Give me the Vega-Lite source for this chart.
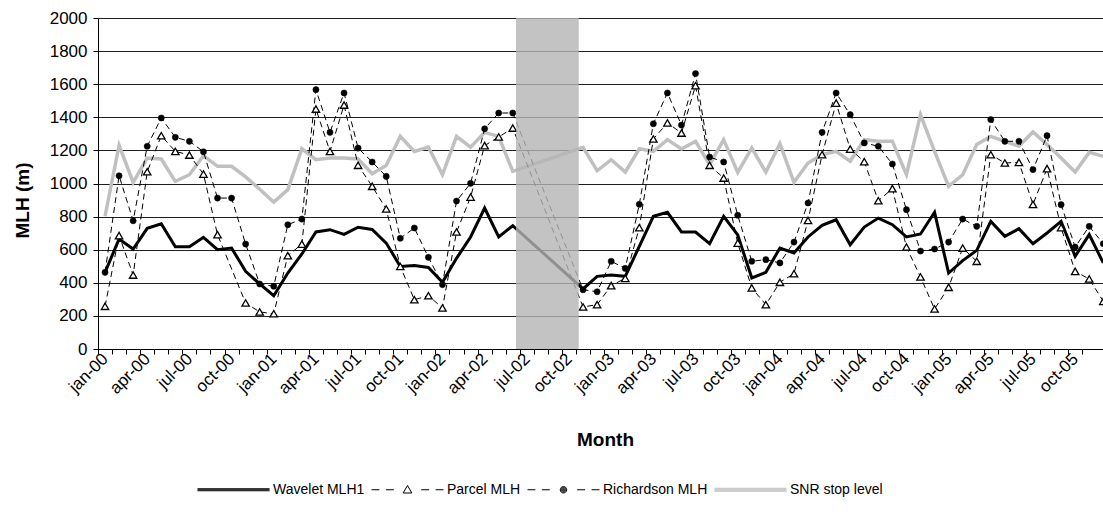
{
  "$schema": "https://vega.github.io/schema/vega-lite/v6.json",
  "width": 1005,
  "height": 331,
  "autosize": {"type": "none"},
  "padding": {"left": 98, "top": 18, "right": 0, "bottom": 165},
  "background": "white",
  "config": {
    "view": {"stroke": null},
    "font": "Liberation Sans",
    "axis": {"labelFont": "Liberation Sans", "titleFont": "Liberation Sans"},
    "legend": {"labelFont": "Liberation Sans"},
    "axisX": {
      "tickOffset": -7.03,
      "labelOffset": 7.03,
      "labelExpr": "datum.value % 3 == 0 ? ['jan','apr','jul','oct'][(datum.value % 12) / 3] + '-0' + floor(datum.value / 12) : ''",
      "labelAngle": -45,
      "labelAlign": "right",
      "labelBaseline": "middle",
      "labelPadding": 2,
      "labelOverlap": false,
      "labelFlush": false,
      "labelBound": false,
      "labelFontSize": 17,
      "labelColor": "black",
      "tickSize": 5,
      "tickColor": "black",
      "domainColor": "black",
      "grid": false,
      "titleFontSize": 19,
      "titleFontWeight": "bold",
      "titleColor": "black",
      "titleX": 507,
      "titleY": 90,
      "titleBaseline": "middle"
    },
    "axisY": {
      "format": "d",
      "grid": true,
      "gridColor": "#1e1e1e",
      "gridWidth": 1,
      "domainColor": "black",
      "tickColor": "black",
      "tickSize": 5,
      "labelPadding": 6,
      "labelOverlap": false,
      "labelFontSize": 17,
      "labelColor": "black",
      "titleFontSize": 19,
      "titleFontWeight": "bold",
      "titleColor": "black",
      "titleAngle": -90,
      "titleAlign": "center",
      "titleBaseline": "middle",
      "titleX": -76,
      "titleY": 182
    }
  },
  "datasets": {
    "mlh": [
      {"m": 0, "month": "jan-00", "wavelet": 463, "parcel": 258, "richardson": 463, "snr": 802},
      {"m": 1, "month": "feb-00", "wavelet": 665, "parcel": 685, "richardson": 1047, "snr": 1231},
      {"m": 2, "month": "mar-00", "wavelet": 604, "parcel": 447, "richardson": 775, "snr": 1007},
      {"m": 3, "month": "apr-00", "wavelet": 729, "parcel": 1071, "richardson": 1225, "snr": 1154},
      {"m": 4, "month": "may-00", "wavelet": 757, "parcel": 1289, "richardson": 1396, "snr": 1148},
      {"m": 5, "month": "jun-00", "wavelet": 618, "parcel": 1194, "richardson": 1279, "snr": 1013},
      {"m": 6, "month": "jul-00", "wavelet": 618, "parcel": 1172, "richardson": 1255, "snr": 1053},
      {"m": 7, "month": "aug-00", "wavelet": 675, "parcel": 1057, "richardson": 1192, "snr": 1168},
      {"m": 8, "month": "sep-00", "wavelet": 600, "parcel": 691, "richardson": 912, "snr": 1104},
      {"m": 9, "month": "oct-00", "wavelet": 610, "richardson": 912, "snr": 1104},
      {"m": 10, "month": "nov-00", "wavelet": 469, "parcel": 278, "richardson": 634, "snr": 1040},
      {"m": 11, "month": "dec-00", "wavelet": 393, "parcel": 224, "richardson": 393, "snr": 965},
      {"m": 12, "month": "jan-01", "wavelet": 322, "parcel": 213, "richardson": 379, "snr": 888},
      {"m": 13, "month": "feb-01", "wavelet": 459, "parcel": 564, "richardson": 751, "snr": 963},
      {"m": 14, "month": "mar-01", "wavelet": 574, "parcel": 634, "richardson": 785, "snr": 1210},
      {"m": 15, "month": "apr-01", "wavelet": 707, "parcel": 1450, "richardson": 1567, "snr": 1144},
      {"m": 16, "month": "may-01", "wavelet": 721, "parcel": 1194, "richardson": 1309, "snr": 1154},
      {"m": 17, "month": "jun-01", "wavelet": 693, "parcel": 1474, "richardson": 1547, "snr": 1154},
      {"m": 18, "month": "jul-01", "wavelet": 736, "parcel": 1110, "richardson": 1214, "snr": 1148},
      {"m": 19, "month": "aug-01", "wavelet": 722, "parcel": 983, "richardson": 1130, "snr": 1059},
      {"m": 20, "month": "sep-01", "wavelet": 640, "parcel": 846, "richardson": 1043, "snr": 1108},
      {"m": 21, "month": "oct-01", "wavelet": 499, "parcel": 499, "richardson": 669, "snr": 1285},
      {"m": 22, "month": "nov-01", "wavelet": 505, "parcel": 298, "richardson": 731, "snr": 1194},
      {"m": 23, "month": "dec-01", "wavelet": 493, "parcel": 322, "richardson": 554, "snr": 1220},
      {"m": 24, "month": "jan-02", "wavelet": 403, "parcel": 248, "richardson": 389, "snr": 1053},
      {"m": 25, "month": "feb-02", "wavelet": 548, "parcel": 707, "richardson": 894, "snr": 1285},
      {"m": 26, "month": "mar-02", "wavelet": 677, "parcel": 918, "richardson": 1001, "snr": 1220},
      {"m": 27, "month": "apr-02", "wavelet": 852, "parcel": 1229, "richardson": 1331, "snr": 1309},
      {"m": 28, "month": "may-02", "wavelet": 677, "parcel": 1281, "richardson": 1426, "snr": 1285},
      {"m": 29, "month": "jun-02", "wavelet": 745, "parcel": 1335, "richardson": 1426, "snr": 1073},
      {"m": 34, "month": "nov-02", "wavelet": 363, "parcel": 254, "richardson": 358, "snr": 1218},
      {"m": 35, "month": "dec-02", "wavelet": 439, "parcel": 268, "richardson": 346, "snr": 1077},
      {"m": 36, "month": "jan-03", "wavelet": 447, "parcel": 383, "richardson": 530, "snr": 1144},
      {"m": 37, "month": "feb-03", "wavelet": 439, "parcel": 427, "richardson": 487, "snr": 1069},
      {"m": 38, "month": "mar-03", "wavelet": 620, "parcel": 733, "richardson": 874, "snr": 1210},
      {"m": 39, "month": "apr-03", "wavelet": 802, "parcel": 1269, "richardson": 1361, "snr": 1194},
      {"m": 40, "month": "may-03", "wavelet": 826, "parcel": 1366, "richardson": 1547, "snr": 1265},
      {"m": 41, "month": "jun-03", "wavelet": 707, "parcel": 1305, "richardson": 1353, "snr": 1208},
      {"m": 42, "month": "jul-03", "wavelet": 707, "parcel": 1591, "richardson": 1664, "snr": 1255},
      {"m": 43, "month": "aug-03", "wavelet": 636, "parcel": 1110, "richardson": 1160, "snr": 1114},
      {"m": 44, "month": "sep-03", "wavelet": 802, "parcel": 1033, "richardson": 1130, "snr": 1265},
      {"m": 45, "month": "oct-03", "wavelet": 689, "parcel": 640, "richardson": 808, "snr": 1067},
      {"m": 46, "month": "nov-03", "wavelet": 429, "parcel": 369, "richardson": 530, "snr": 1214},
      {"m": 47, "month": "dec-03", "wavelet": 463, "parcel": 268, "richardson": 540, "snr": 1069},
      {"m": 48, "month": "jan-04", "wavelet": 610, "parcel": 403, "richardson": 520, "snr": 1241},
      {"m": 49, "month": "feb-04", "wavelet": 580, "parcel": 455, "richardson": 646, "snr": 1007},
      {"m": 50, "month": "mar-04", "wavelet": 677, "parcel": 777, "richardson": 882, "snr": 1124},
      {"m": 51, "month": "apr-04", "wavelet": 747, "parcel": 1174, "richardson": 1309, "snr": 1174},
      {"m": 52, "month": "may-04", "wavelet": 781, "parcel": 1486, "richardson": 1547, "snr": 1194},
      {"m": 53, "month": "jun-04", "wavelet": 630, "parcel": 1208, "richardson": 1416, "snr": 1134},
      {"m": 54, "month": "jul-04", "wavelet": 737, "parcel": 1132, "richardson": 1245, "snr": 1265},
      {"m": 55, "month": "aug-04", "wavelet": 791, "parcel": 896, "richardson": 1225, "snr": 1255},
      {"m": 56, "month": "sep-04", "wavelet": 751, "parcel": 969, "richardson": 1118, "snr": 1255},
      {"m": 57, "month": "oct-04", "wavelet": 677, "parcel": 616, "richardson": 842, "snr": 1053},
      {"m": 58, "month": "nov-04", "wavelet": 695, "parcel": 435, "richardson": 592, "snr": 1416},
      {"m": 59, "month": "dec-04", "wavelet": 826, "parcel": 242, "richardson": 604, "snr": 1194},
      {"m": 60, "month": "jan-05", "wavelet": 459, "parcel": 373, "richardson": 646, "snr": 983},
      {"m": 61, "month": "feb-05", "wavelet": 534, "parcel": 610, "richardson": 785, "snr": 1053},
      {"m": 62, "month": "mar-05", "wavelet": 596, "parcel": 530, "richardson": 741, "snr": 1235},
      {"m": 63, "month": "apr-05", "wavelet": 771, "parcel": 1174, "richardson": 1386, "snr": 1285},
      {"m": 64, "month": "may-05", "wavelet": 681, "parcel": 1124, "richardson": 1255, "snr": 1255},
      {"m": 65, "month": "jun-05", "wavelet": 727, "parcel": 1128, "richardson": 1255, "snr": 1225},
      {"m": 66, "month": "jul-05", "wavelet": 636, "parcel": 874, "richardson": 1084, "snr": 1311},
      {"m": 67, "month": "aug-05", "wavelet": 701, "parcel": 1090, "richardson": 1289, "snr": 1235},
      {"m": 68, "month": "sep-05", "wavelet": 771, "parcel": 733, "richardson": 872, "snr": 1154},
      {"m": 69, "month": "oct-05", "wavelet": 560, "parcel": 469, "richardson": 616, "snr": 1069},
      {"m": 70, "month": "nov-05", "wavelet": 691, "parcel": 423, "richardson": 741, "snr": 1188},
      {"m": 71, "month": "dec-05", "wavelet": 520, "parcel": 288, "richardson": 636, "snr": 1164}
    ],
    "outage": [{"from": 29.23, "to": 33.69}]
  },
  "layer": [
    {
      "data": {"name": "mlh"},
      "transform": [
        {"fold": ["wavelet", "parcel", "richardson", "snr"], "as": ["series", "value"]},
        {"filter": "isValid(datum.value) && datum.series == 'snr'"}
      ],
      "mark": {"type": "line", "color": "#c0c0c0", "strokeWidth": 3.5},
      "encoding": {
        "x": {"field": "m", "type": "quantitative", "title": "Month", "scale": {"domain": [-0.5, 70.98], "nice": false, "zero": false},
              "axis": {"values": [0,1,2,3,4,5,6,7,8,9,10,11,12,13,14,15,16,17,18,19,20,21,22,23,24,25,26,27,28,29,30,31,32,33,34,35,36,37,38,39,40,41,42,43,44,45,46,47,48,49,50,51,52,53,54,55,56,57,58,59,60,61,62,63,64,65,66,67,68,69,70,71]}},
        "y": {"field": "value", "type": "quantitative", "title": "MLH (m)", "scale": {"domain": [0, 2000], "nice": false},
              "axis": {"values": [0, 200, 400, 600, 800, 1000, 1200, 1400, 1600, 1800, 2000]}}
      }
    },
    {
      "data": {"name": "mlh"},
      "transform": [
        {"fold": ["wavelet", "parcel", "richardson", "snr"], "as": ["series", "value"]},
        {"filter": "isValid(datum.value) && datum.series == 'wavelet'"}
      ],
      "mark": {"type": "line", "color": "black", "strokeWidth": 3},
      "encoding": {
        "x": {"field": "m", "type": "quantitative", "title": "Month", "scale": {"domain": [-0.5, 70.98], "nice": false, "zero": false},
              "axis": {"values": [0,1,2,3,4,5,6,7,8,9,10,11,12,13,14,15,16,17,18,19,20,21,22,23,24,25,26,27,28,29,30,31,32,33,34,35,36,37,38,39,40,41,42,43,44,45,46,47,48,49,50,51,52,53,54,55,56,57,58,59,60,61,62,63,64,65,66,67,68,69,70,71]}},
        "y": {"field": "value", "type": "quantitative", "title": "MLH (m)", "scale": {"domain": [0, 2000], "nice": false},
              "axis": {"values": [0, 200, 400, 600, 800, 1000, 1200, 1400, 1600, 1800, 2000]}}
      }
    },
    {
      "data": {"name": "mlh"},
      "transform": [
        {"fold": ["wavelet", "parcel", "richardson", "snr"], "as": ["series", "value"]},
        {"filter": "isValid(datum.value) && (datum.series == 'parcel' || datum.series == 'richardson')"}
      ],
      "mark": {"type": "line", "color": "black", "strokeWidth": 1, "strokeDash": [6, 4]},
      "encoding": {
        "detail": {"field": "series"},
        "x": {"field": "m", "type": "quantitative", "title": "Month", "scale": {"domain": [-0.5, 70.98], "nice": false, "zero": false},
              "axis": {"values": [0,1,2,3,4,5,6,7,8,9,10,11,12,13,14,15,16,17,18,19,20,21,22,23,24,25,26,27,28,29,30,31,32,33,34,35,36,37,38,39,40,41,42,43,44,45,46,47,48,49,50,51,52,53,54,55,56,57,58,59,60,61,62,63,64,65,66,67,68,69,70,71]}},
        "y": {"field": "value", "type": "quantitative", "title": "MLH (m)", "scale": {"domain": [0, 2000], "nice": false},
              "axis": {"values": [0, 200, 400, 600, 800, 1000, 1200, 1400, 1600, 1800, 2000]}}
      }
    },
    {
      "data": {"name": "mlh"},
      "transform": [
        {"fold": ["wavelet", "parcel", "richardson", "snr"], "as": ["series", "value"]},
        {"filter": "isValid(datum.value) && datum.series == 'parcel'"}
      ],
      "mark": {"type": "point", "shape": "triangle-up", "size": 55, "fill": "white", "stroke": "black", "strokeWidth": 1.3, "opacity": 1, "filled": false},
      "encoding": {
        "x": {"field": "m", "type": "quantitative", "title": "Month", "scale": {"domain": [-0.5, 70.98], "nice": false, "zero": false},
              "axis": {"values": [0,1,2,3,4,5,6,7,8,9,10,11,12,13,14,15,16,17,18,19,20,21,22,23,24,25,26,27,28,29,30,31,32,33,34,35,36,37,38,39,40,41,42,43,44,45,46,47,48,49,50,51,52,53,54,55,56,57,58,59,60,61,62,63,64,65,66,67,68,69,70,71]}},
        "y": {"field": "value", "type": "quantitative", "title": "MLH (m)", "scale": {"domain": [0, 2000], "nice": false},
              "axis": {"values": [0, 200, 400, 600, 800, 1000, 1200, 1400, 1600, 1800, 2000]}}
      }
    },
    {
      "data": {"name": "mlh"},
      "transform": [
        {"fold": ["wavelet", "parcel", "richardson", "snr"], "as": ["series", "value"]},
        {"filter": "isValid(datum.value) && datum.series == 'richardson'"}
      ],
      "mark": {"type": "point", "shape": "circle", "size": 38, "fill": "black", "stroke": "black", "strokeWidth": 0.5, "opacity": 1, "filled": true},
      "encoding": {
        "x": {"field": "m", "type": "quantitative", "title": "Month", "scale": {"domain": [-0.5, 70.98], "nice": false, "zero": false},
              "axis": {"values": [0,1,2,3,4,5,6,7,8,9,10,11,12,13,14,15,16,17,18,19,20,21,22,23,24,25,26,27,28,29,30,31,32,33,34,35,36,37,38,39,40,41,42,43,44,45,46,47,48,49,50,51,52,53,54,55,56,57,58,59,60,61,62,63,64,65,66,67,68,69,70,71]}},
        "y": {"field": "value", "type": "quantitative", "title": "MLH (m)", "scale": {"domain": [0, 2000], "nice": false},
              "axis": {"values": [0, 200, 400, 600, 800, 1000, 1200, 1400, 1600, 1800, 2000]}}
      }
    },
    {
      "data": {"name": "mlh"},
      "transform": [
        {"fold": ["wavelet", "parcel", "richardson", "snr"], "as": ["series", "value"]},
        {"filter": "isValid(datum.value)"}
      ],
      "mark": {"type": "point", "opacity": 0, "strokeWidth": 1, "filled": false},
      "encoding": {
        "x": {"field": "m", "type": "quantitative", "title": "Month", "scale": {"domain": [-0.5, 70.98], "nice": false, "zero": false},
              "axis": {"values": [0,1,2,3,4,5,6,7,8,9,10,11,12,13,14,15,16,17,18,19,20,21,22,23,24,25,26,27,28,29,30,31,32,33,34,35,36,37,38,39,40,41,42,43,44,45,46,47,48,49,50,51,52,53,54,55,56,57,58,59,60,61,62,63,64,65,66,67,68,69,70,71]}},
        "y": {"field": "value", "type": "quantitative", "title": "MLH (m)", "scale": {"domain": [0, 2000], "nice": false},
              "axis": {"values": [0, 200, 400, 600, 800, 1000, 1200, 1400, 1600, 1800, 2000]}},
        "shape": {
          "field": "series", "type": "nominal",
          "scale": {
            "domain": ["wavelet", "parcel", "richardson", "snr"],
            "range": [
              "M-1,-0.028H1M-1,0H1M-1,0.028H1",
              "M-1,0H-0.78M-0.6,0H-0.38M0.38,0H0.6M0.78,0H1M0,-0.12L0.12,0.09L-0.12,0.09Z",
              "M-1,0H-0.78M-0.6,0H-0.38M0.38,0H0.6M0.78,0H1M-0.09,0A0.09,0.09 0 1,0 0.09,0A0.09,0.09 0 1,0 -0.09,0ZM-0.065,0A0.065,0.065 0 1,0 0.065,0A0.065,0.065 0 1,0 -0.065,0ZM-0.04,0A0.04,0.04 0 1,0 0.04,0A0.04,0.04 0 1,0 -0.04,0ZM-0.015,0A0.015,0.015 0 1,0 0.015,0A0.015,0.015 0 1,0 -0.015,0Z",
              "M-1,-0.042H1M-1,-0.014H1M-1,0.014H1M-1,0.042H1"
            ]
          },
          "legend": {
            "title": null,
            "orient": "none",
            "direction": "horizontal",
            "legendX": 99,
            "legendY": 435,
            "padding": 0,
            "symbolSize": 5184,
            "symbolStrokeWidth": 1,
            "labelOffset": 3,
            "columnPadding": 4,
            "labelFontSize": 14,
            "labelColor": "black",
            "labelExpr": "{'wavelet': 'Wavelet MLH1', 'parcel': 'Parcel MLH', 'richardson': 'Richardson MLH', 'snr': 'SNR stop level'}[datum.label]",
            "encode": {"symbols": {"opacity": {"value": 1}}}
          }
        },
        "stroke": {
          "field": "series", "type": "nominal",
          "scale": {"domain": ["wavelet", "parcel", "richardson", "snr"], "range": ["black", "black", "black", "#c0c0c0"]},
          "legend": {
            "title": null,
            "orient": "none",
            "direction": "horizontal",
            "legendX": 99,
            "legendY": 435,
            "padding": 0,
            "symbolSize": 5184,
            "symbolStrokeWidth": 1,
            "labelOffset": 3,
            "columnPadding": 4,
            "labelFontSize": 14,
            "labelColor": "black",
            "labelExpr": "{'wavelet': 'Wavelet MLH1', 'parcel': 'Parcel MLH', 'richardson': 'Richardson MLH', 'snr': 'SNR stop level'}[datum.label]"
          }
        }
      }
    },
    {
      "data": {"name": "outage"},
      "mark": {"type": "rect", "color": "#b4b4b4", "opacity": 0.8},
      "encoding": {
        "x": {"field": "from", "type": "quantitative", "title": "Month", "scale": {"domain": [-0.5, 70.98], "nice": false, "zero": false},
              "axis": {"values": [0,1,2,3,4,5,6,7,8,9,10,11,12,13,14,15,16,17,18,19,20,21,22,23,24,25,26,27,28,29,30,31,32,33,34,35,36,37,38,39,40,41,42,43,44,45,46,47,48,49,50,51,52,53,54,55,56,57,58,59,60,61,62,63,64,65,66,67,68,69,70,71]}},
        "x2": {"field": "to"}
      }
    }
  ]
}
